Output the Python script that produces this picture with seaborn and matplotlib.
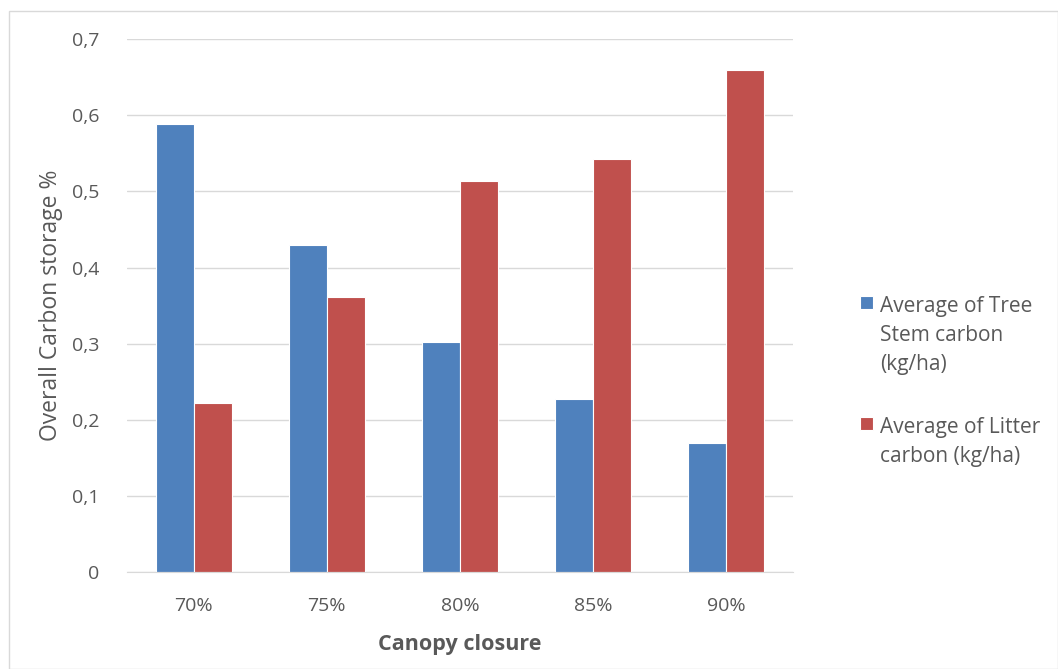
import pandas as pd
import numpy as np
import matplotlib.pyplot as plt
import seaborn as sns
from matplotlib.patches import Rectangle
from matplotlib.ticker import FuncFormatter

# chart data
closure = ['70%', '75%', '80%', '85%', '90%']
stem_carbon = [0.589, 0.430, 0.302, 0.227, 0.170]
litter_carbon = [0.222, 0.361, 0.514, 0.542, 0.660]
series_names = ['Average of Tree\nStem carbon\n(kg/ha)', 'Average of Litter\ncarbon (kg/ha)']
colors = ['#4F81BD', '#C0504D']

sns.set_style("white")
plt.rcParams['font.family'] = ['Open Sans', 'DejaVu Sans']

df = pd.DataFrame({
    'closure': closure * 2,
    'value': stem_carbon + litter_carbon,
    'series': [series_names[0]] * len(closure) + [series_names[1]] * len(closure),
})

fig = plt.figure(figsize=(10.58, 6.69), dpi=100)
ax = fig.add_axes([0.120, 0.145, 0.6295, 0.7965])

sns.barplot(data=df, x='closure', y='value', hue='series', palette=colors, saturation=1,
            width=0.57, edgecolor='white', linewidth=0.8, ax=ax, legend=True)

ax.set_ylim(0, 0.7)
ax.set_yticks(np.arange(0, 0.71, 0.1))
ax.yaxis.set_major_formatter(FuncFormatter(lambda v, p: '0' if abs(v) < 1e-9 else f'{v:.1f}'.replace('.', ',')))
ax.grid(axis='y', color='#d9d9d9', linewidth=1)
ax.set_axisbelow(True)
for s in ['top', 'right', 'left']:
    ax.spines[s].set_visible(False)
ax.spines['bottom'].set_color('#d9d9d9')
ax.tick_params(axis='both', length=0, labelsize=14, labelcolor='#595959')
ax.tick_params(axis='x', pad=18)
ax.tick_params(axis='y', pad=20)

ax.set_xlabel('Canopy closure', fontsize=15.5, fontweight='bold', color='#595959', labelpad=14)
ax.set_ylabel('Overall Carbon storage %', fontsize=16.5, color='#595959', labelpad=6)

handles, labels = ax.get_legend_handles_labels()
ax.get_legend().remove()
leg = fig.legend(handles, labels, loc='center left', bbox_to_anchor=(0.795, 0.43),
                 frameon=False, fontsize=15, labelcolor='#595959', handlelength=0.62,
                 handleheight=0.62, handletextpad=0.35, labelspacing=2.0)
for t in leg.get_texts():
    t.set_linespacing(1.5)
# put the square next to the first line of each label, like Excel does
for col in leg._legend_handle_box.get_children():
    for item in col.get_children():
        item.align = 'top'

fig.patches.append(Rectangle((9 / 1058, 0), 1 - 9 / 1058, 1 - 11 / 669, transform=fig.transFigure,
                             fill=False, edgecolor='#d9d9d9', linewidth=1))

plt.savefig('out.png', dpi=100)
